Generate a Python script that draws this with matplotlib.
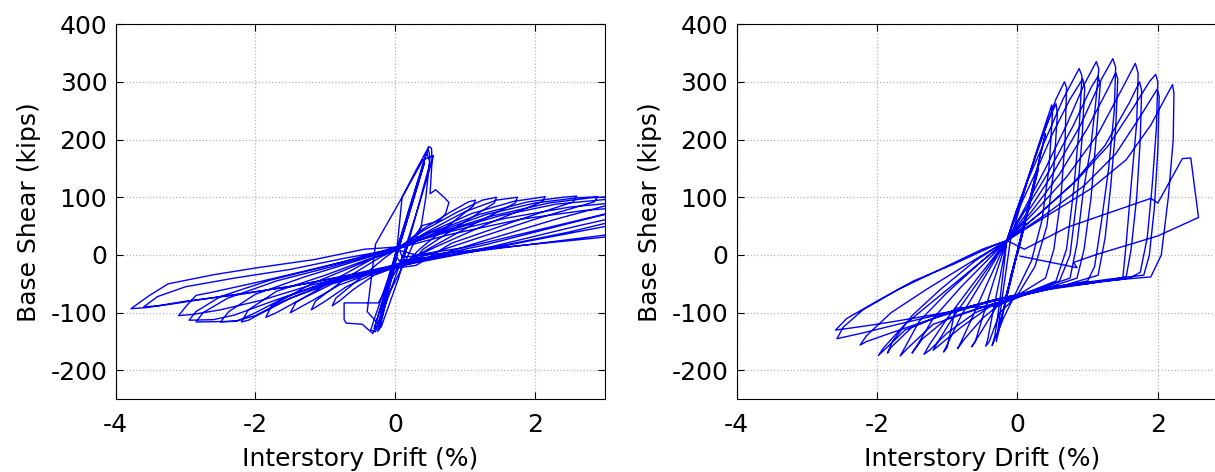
'''
hysteresis curves: base shear vs interstory drift, two specimens
'''
import numpy as np
import matplotlib
matplotlib.use('Agg')
import matplotlib.pyplot as plt

# (drift %, base shear kips), cycle by cycle
left_pts = [
    # elastic cycles + first peak
    (0, 0), (0.12, 45), (-0.08, -35), (0.22, 85), (-0.15, -70), (0.32, 125),
    (-0.22, -100), (0.42, 160), (-0.3, -128), (0.48, 188), (0.52, 185), (0.53, 165),
    (0.5, 106), (0.58, 113), (0.7, 100), (0.77, 91), (0.72, 71), (0.63, 59), (0.39, 51),
    (0.2, 20), (0.0, -30), (-0.24, -83), (-0.73, -83), (-0.73, -112), (-0.7, -118),
    (-0.47, -120), (-0.32, -136), (-0.25, -120), (0.0, -20), (0.1, 100), (0.3, 147),
    (0.47, 185), (0.5, 170), (0.44, 100), (0.37, 48), (0.15, -10), (-0.1, -70),
    (-0.28, -133), (-0.35, -130), (-0.1, -40), (0.2, 80), (0.45, 178), (0.5, 160),
    (0.3, 70), (0.05, -40), (-0.2, -125), (-0.4, -98), (-0.28, 19), (0.1, 100),
    (0.4, 165), (0.55, 172), (0.35, 90), (0.1, -5), (-0.15, -90), (-0.25, -132),
    (-0.22, -128), (0.05, 12),
    # cycle 1
    (0.4, 45), (0.8, 75), (1.05, 92), (1.15, 95), (1.12, 85), (0.7, 45), (0.35, 10), (0.15, -15),
    (-0.3, -35), (-0.6, -60), (-0.8, -80), (-0.9, -88), (-0.85, -75), (-0.5, -40), (-0.15, -5), (0.0, 8),
    # cycle 2
    (0.4, 42), (0.9, 75), (1.25, 95), (1.45, 100), (1.42, 90), (0.9, 50), (0.4, 10), (0.25, -12),
    (-0.3, -32), (-0.7, -55), (-1.0, -80), (-1.2, -95), (-1.14, -80), (-0.7, -40), (-0.2, -3), (0.1, 15),
    # cycle 3
    (0.5, 43), (1.0, 75), (1.45, 95), (1.75, 100), (1.72, 90), (1.1, 52), (0.5, 12), (0.05, -20),
    (-0.3, -30), (-0.8, -52), (-1.2, -80), (-1.5, -100), (-1.42, -82), (-0.9, -45), (-0.3, -5), (-0.05, 5),
    # cycle 4
    (0.5, 40), (1.1, 72), (1.7, 93), (2.15, 101), (2.1, 92), (1.4, 58), (0.6, 15), (0.2, -8),
    (-0.3, -30), (-0.9, -50), (-1.4, -80), (-1.7, -100), (-1.85, -108), (-1.77, -88), (-1.2, -50),
    (-0.5, -15), (0.15, 18),
    # cycle 5
    (0.5, 38), (1.2, 70), (1.9, 92), (2.4, 100), (2.6, 102), (2.55, 92), (1.8, 62), (0.8, 20), (0.3, -18),
    (-0.3, -28), (-0.9, -48), (-1.5, -75), (-1.9, -100), (-2.1, -113), (-2.2, -116), (-2.1, -95),
    (-1.7, -63), (-1.0, -35), (-0.4, -8), (0.05, 10),
    # cycle 6
    (0.6, 40), (1.3, 70), (2.0, 90), (2.6, 99), (2.9, 101), (2.85, 92), (2.0, 62), (1.0, 22), (0.1, -14),
    (-0.3, -28), (-1.0, -48), (-1.6, -75), (-2.0, -100), (-2.25, -114), (-2.5, -116), (-2.38, -98),
    (-2.0, -68), (-1.3, -38), (-0.6, -12), (0.1, 14),
    # cycle 7
    (0.6, 38), (1.4, 68), (2.2, 90), (2.8, 99), (3.3, 103), (3.25, 93), (2.3, 62), (1.2, 22), (0.2, -16),
    (-0.4, -30), (-1.0, -50), (-1.6, -80), (-2.0, -105), (-2.3, -115), (-2.85, -116), (-2.75, -100),
    (-2.4, -75), (-1.7, -45), (-0.9, -20), (-0.2, 5), (0.0, 12),
    # cycle 8
    (0.7, 40), (1.5, 68), (2.3, 88), (3.0, 96), (3.6, 98), (3.5, 85), (2.5, 55), (1.3, 18), (0.25, -10),
    (-0.4, -30), (-1.1, -52), (-1.8, -82), (-2.3, -104), (-2.6, -112), (-2.95, -113), (-2.85, -98),
    (-2.5, -72), (-1.8, -44), (-1.0, -20), (-0.3, 3), (0.08, 16),
    # cycle 9
    (0.7, 38), (1.6, 64), (2.5, 83), (3.1, 90), (3.8, 92), (3.7, 80), (2.6, 50), (1.4, 15), (0.15, -15),
    (-0.5, -32), (-1.2, -52), (-1.9, -78), (-2.5, -95), (-2.9, -103), (-3.1, -105), (-3.0, -90),
    (-2.85, -70), (-2.6, -64), (-2.0, -48), (-1.2, -25), (-0.5, -5), (0.05, 12),
    # cycle 10
    (0.8, 36), (1.8, 62), (2.7, 77), (3.3, 83), (4.0, 85), (3.9, 70), (2.6, 40), (1.3, 10), (0.1, -18),
    (-0.5, -32), (-1.3, -50), (-2.2, -68), (-3.0, -80), (-3.4, -88), (-3.6, -90), (-3.4, -72),
    (-3.0, -55), (-2.3, -40), (-1.5, -25), (-0.7, -5), (0.0, 10),
    # cycle 11
    (0.3, 0), (1.0, 13), (2.0, 42), (3.0, 71), (3.8, 88), (3.7, 75), (2.5, 40), (1.2, 8), (0.2, -12),
    (-0.6, -33), (-1.5, -55), (-2.5, -72), (-3.2, -85), (-3.55, -91), (-3.78, -93), (-3.54, -72),
    (-3.25, -50), (-2.59, -34), (-1.97, -22), (-1.16, -8), (-0.44, 10), (0.05, 14),
    # last, degraded
    (0.1, -4), (4.0, 43), (3.9, 48), (0.06, -10), (0.0, 0),
]

right_pts = [
    # elastic cycles
    (0, 0), (0.1, 50), (-0.1, -40), (0.2, 100), (-0.18, -80), (0.3, 150), (-0.25, -120),
    (0.4, 210), (-0.3, -150),
    # cycle 1
    (-0.2, -60), (-0.1, 25), (0.1, 110), (0.3, 190), (0.49, 260), (0.5, 245), (0.45, 150),
    (0.35, 60), (0.2, -10), (0.0, -60), (-0.2, -110), (-0.36, -157), (-0.32, -140), (-0.25, -80),
    (-0.15, 25),
    # cycle 2
    (0.05, 95), (0.25, 170), (0.45, 235), (0.55, 262), (0.57, 245), (0.52, 150), (0.42, 50),
    (0.25, -20), (0.0, -70), (-0.25, -100), (-0.4, -150), (-0.45, -158), (-0.42, -145),
    (-0.35, -100), (-0.25, -40), (-0.15, 25),
    # cycle 3
    (-0.02, 75), (0.2, 150), (0.4, 220), (0.55, 270), (0.67, 300), (0.7, 290), (0.68, 200),
    (0.62, 100), (0.52, 10), (0.4, -40), (0.0, -70), (-0.3, -90), (-0.5, -130), (-0.65, -159),
    (-0.6, -150), (-0.5, -110), (-0.35, -50), (-0.15, 25),
    # cycle 4
    (0.0, 80), (0.15, 130), (0.4, 200), (0.65, 270), (0.88, 323), (0.92, 310), (0.88, 220),
    (0.8, 110), (0.7, 10), (0.55, -45), (0.2, -62), (-0.2, -80), (-0.5, -110), (-0.75, -145),
    (-0.85, -162), (-0.8, -150), (-0.65, -110), (-0.45, -55), (-0.15, 25),
    # cycle 5
    (0.02, 80), (0.25, 140), (0.5, 210), (0.75, 270), (0.93, 305), (0.96, 290), (0.92, 200),
    (0.85, 100), (0.75, 0), (0.6, -45), (0.2, -65), (-0.3, -88), (-0.88, -92), (-1.0, -160),
    (-1.05, -168), (-0.98, -150), (-0.8, -105), (-0.5, -45), (-0.15, 25),
    # cycle 6
    (0.1, 80), (0.4, 150), (0.7, 225), (0.95, 295), (1.125, 335), (1.16, 322),
    (1.11, 257), (1.04, 182), (0.94, 112), (0.85, 20), (0.75, -40), (0.4, -55), (0.0, -70),
    (-0.4, -90), (-0.8, -125), (-1.1, -155), (-1.2, -165), (-1.12, -148), (-0.9, -105),
    (-0.55, -45), (-0.15, 25),
    # cycle 7
    (0.1, 75), (0.45, 145), (0.8, 225), (1.05, 290), (1.15, 310), (1.18, 295), (1.12, 200),
    (1.05, 100), (0.95, 10), (0.85, -40), (0.4, -58), (-0.1, -75), (-0.6, -100), (-1.0, -135),
    (-1.25, -165), (-1.33, -172), (-1.25, -155), (-1.0, -110), (-0.6, -45), (-0.15, 25),
    # cycle 8
    (0.15, 75), (0.5, 140), (0.9, 225), (1.2, 305), (1.36, 340), (1.4, 325),
    (1.38, 250), (1.3, 150), (1.2, 60), (1.1, -20), (1.0, -45), (0.5, -58), (0.0, -72),
    (-0.5, -90), (-1.0, -110), (-1.35, -145), (-1.5, -170), (-1.42, -155), (-1.2, -110),
    (-0.8, -55), (-0.15, 25),
    # cycle 9
    (0.2, 75), (0.6, 140), (1.0, 220), (1.3, 290), (1.4, 316), (1.43, 305), (1.4, 220),
    (1.33, 120), (1.25, 30), (1.15, -35), (0.6, -55), (0.0, -72), (-0.6, -95), (-1.2, -120),
    (-1.55, -160), (-1.67, -175), (-1.6, -160), (-1.4, -115), (-1.0, -65), (-0.5, -10), (-0.15, 25),
    # cycle 10
    (0.25, 75), (0.7, 135), (1.15, 210), (1.5, 290), (1.68, 332), (1.72, 315),
    (1.7, 230), (1.62, 120), (1.55, 20), (1.5, -42), (1.3, -45), (0.5, -57), (-0.24, -75),
    (-0.95, -98), (-1.5, -125), (-1.8, -160), (-1.85, -170), (-1.78, -150), (-1.5, -105),
    (-1.1, -60), (-0.6, -10), (-0.15, 25),
    # cycle 11
    (0.3, 70), (0.8, 125), (1.25, 190), (1.6, 265), (1.74, 300), (1.77, 285), (1.75, 200),
    (1.7, 100), (1.62, 10), (1.55, -38), (1.0, -50), (0.3, -62), (-0.4, -80), (-1.0, -100),
    (-1.6, -130), (-1.9, -165), (-1.98, -174), (-1.9, -160), (-1.6, -120), (-1.1, -70),
    (-0.6, -20), (-0.15, 25),
    # cycle 12
    (0.35, 75), (0.85, 130), (1.3, 190), (1.65, 255), (1.88, 300), (1.97, 313), (2.0, 300),
    (1.98, 220), (1.92, 120), (1.85, 30), (1.75, -30), (1.6, -40), (1.0, -48), (0.3, -60),
    (-0.5, -85), (-1.2, -110), (-1.8, -135), (-2.15, -150), (-2.24, -156), (-2.15, -140),
    (-1.8, -100), (-1.3, -60), (-0.7, -15), (-0.15, 25),
    # cycle 13
    (0.4, 70), (0.95, 120), (1.4, 175), (1.75, 240), (1.99, 287), (2.02, 275), (2.0, 180),
    (1.95, 80), (1.88, 0), (1.8, -35), (1.3, -42), (0.5, -55), (-0.3, -78), (-1.0, -100),
    (-1.7, -120), (-2.2, -135), (-2.5, -143), (-2.57, -145), (-2.48, -125), (-2.2, -95),
    (-1.7, -60), (-1.1, -25), (-0.5, 10), (-0.15, 25),
    # cycle 14
    (0.45, 70), (1.05, 115), (1.55, 165), (1.9, 225), (2.12, 275), (2.21, 295), (2.23, 280),
    (2.22, 200), (2.15, 100), (2.05, 0), (1.9, -38), (1.51, -42), (1.0, -48), (0.5, -55),
    (-0.24, -75), (-0.95, -98), (-1.5, -110), (-2.0, -120), (-2.4, -127), (-2.59, -130),
    (-2.43, -110), (-2.0, -80), (-1.48, -45), (-0.91, -16), (-0.34, 16), (-0.15, 25),
    # last excursion
    (0.1, 10), (0.71, 48), (1.9, 98), (2.0, 90), (2.35, 167), (2.47, 168), (2.58, 65),
    (2.0, 33), (1.13, 1), (0.8, -13), (0.85, -22), (0.04, -2),
]

xticks = [-4, -2, 0, 2]
yticks = [-200, -100, 0, 100, 200, 300, 400]


def PlotHyst(sub, pts):
    pts = np.array(pts)
    sub.plot(pts[:, 0], pts[:, 1], c='#0000ff', lw=1.0)

    sub.set_xlim([-4., 3.])
    sub.set_ylim([-250., 400.])
    sub.set_xticks(xticks)
    sub.set_yticks(yticks)
    sub.grid(True, ls=':', c='#b4b4b4', lw=0.9)
    sub.set_axisbelow(True)
    sub.tick_params(direction='in', length=5, width=0.8, top=True, right=True,
                    labelsize=18)
    sub.tick_params(axis='x', pad=10)
    sub.tick_params(axis='y', pad=6)
    for sp in sub.spines.values():
        sp.set_linewidth(0.8)
    sub.set_xlabel('Interstory Drift (%)', fontsize=18, labelpad=7)
    sub.set_ylabel('Base Shear (kips)', fontsize=18, labelpad=7)
    return None


if __name__ == '__main__':
    plt.rcParams['font.family'] = ['DejaVu Sans']
    plt.rcParams['axes.unicode_minus'] = False
    fig = plt.figure(figsize=(12.15, 4.72), dpi=100)
    sub1 = fig.add_axes([0.0952, 0.154, 0.4025, 0.795])
    sub2 = fig.add_axes([0.6062, 0.154, 0.4045, 0.795])
    PlotHyst(sub1, left_pts)
    PlotHyst(sub2, right_pts)
    fig.savefig('out.png', dpi=100)
    plt.close()
